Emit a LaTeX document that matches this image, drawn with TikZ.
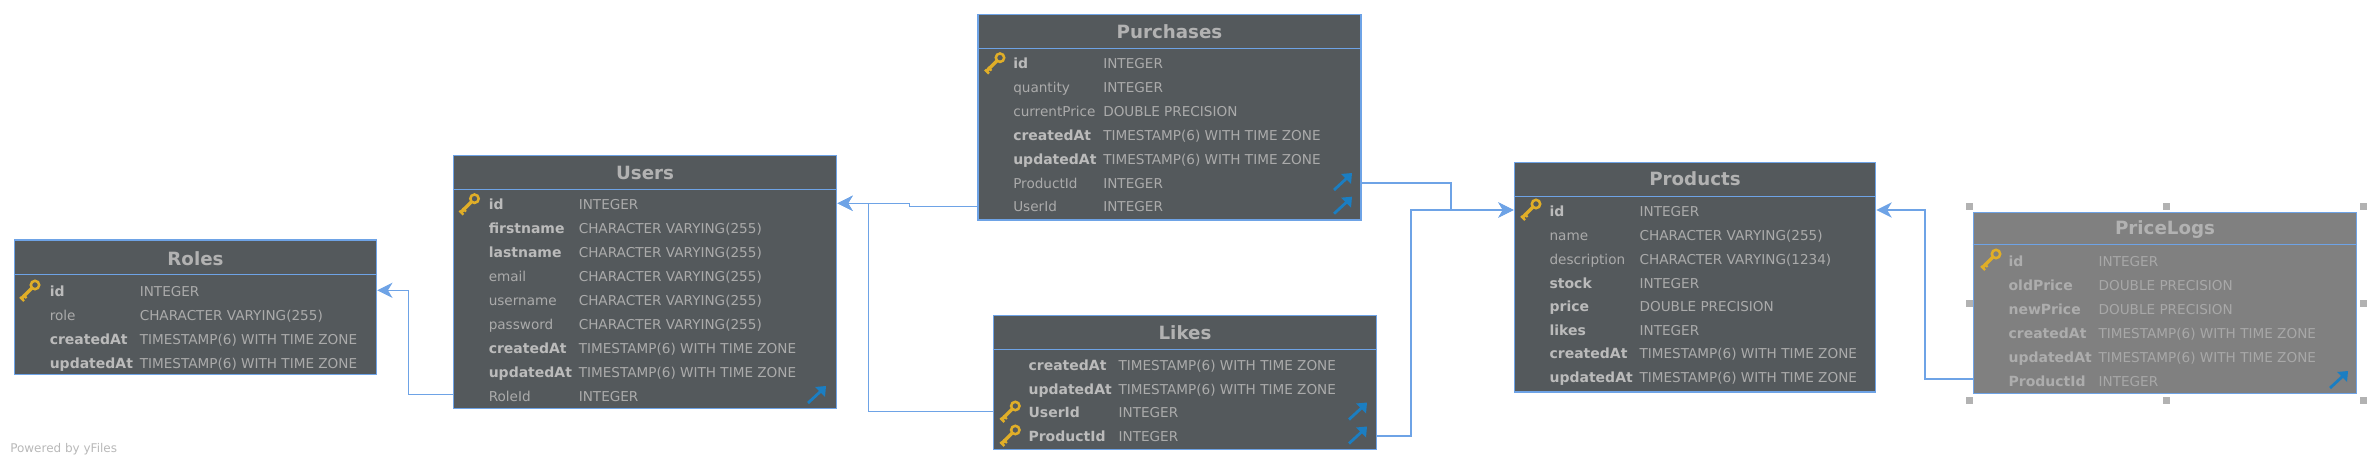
\documentclass[tikz,border=0pt]{standalone}
\usepackage{fontspec}
\setmainfont{DejaVu Sans}
\usetikzlibrary{fit,arrows.meta,calc}
\definecolor{bdr}{HTML}{6EA3E6}
\definecolor{dark}{HTML}{54595C}
\definecolor{mid}{HTML}{808080}
\definecolor{ttl}{HTML}{B2B2B2}
\definecolor{bld}{HTML}{BBBBBB}
\definecolor{reg}{HTML}{ABABAB}
\definecolor{gold}{HTML}{E0AE28}
\definecolor{fkblue}{HTML}{1B7EC2}
\tikzset{
  x=0.75pt,y=-0.75pt,
  tablebox/.style={draw=bdr,line width=1.1pt,inner sep=0pt},
  titletext/.style={font=\bfseries\fontsize{13.7pt}{15pt}\selectfont,text=ttl,inner sep=0pt},
  boldtext/.style={font=\bfseries\fontsize{10.5pt}{12pt}\selectfont,text=bld,inner sep=0pt,anchor=base west},
  regtext/.style={font=\fontsize{10.2pt}{12pt}\selectfont,text=reg,inner sep=0pt,anchor=base west},
  fk/.style={draw=bdr,line width=0.85pt,-{Stealth[length=11.5pt,width=11.5pt,inset=3.5pt]}},
  handlebox/.style={fill=black!30,draw=none,minimum size=5.2pt,inner sep=0pt},
  keyicon/.pic={
    \draw[gold,line width=2.5pt] (-8,8) -- (3,-3);
    \draw[gold,line width=1.9pt] (6,-6) circle[radius=4.2];
    \draw[gold,line width=1.8pt] (-9,6) -- (-5,10);
    \draw[gold,line width=1.6pt] (-6,3.5) -- (-2.5,7);
  },
  fkicon/.pic={
    \draw[fkblue,line width=2.1pt] (-9,8) -- (4,-4);
    \fill[fkblue] (9,-9) -- (8,2) -- (-2,-8) -- cycle;
  }
}
% #1 name, #2 left, #3 top, #4 right, #5 bottom, #6 header rule y, #7 title y, #8 fill, #9 title
\newcommand\erTable[9]{%
  \node[tablebox,fill=#8,fit={(#2,#3)(#4,#5)}] (#1) {};
  \draw[bdr,line width=1pt] (#1.west |- 0,#6) -- (#1.east |- 0,#6);
  \node[titletext] (#1-title) at ($(#2,#7)!0.5!(#4,#7)$) {#9};
}
% #1 table, #2 left, #3 row y, #4 name, #5 type
\newcommand\erB[5]{%
  \node[boldtext] (#1-#4-n) at (#2+35,#3+5) {#4};
  \node[regtext] (#1-#4-t) at (#2+125,#3+5) {#5};
}
\newcommand\erR[5]{%
  \node[regtext] (#1-#4-n) at (#2+35,#3+5) {#4};
  \node[regtext] (#1-#4-t) at (#2+125,#3+5) {#5};
}
\newcommand\tsz{TIMESTAMP(6) WITH TIME ZONE}
\newcommand\cvr{CHARACTER VARYING(255)}
\newcommand\dbl{DOUBLE PRECISION}
\begin{document}
\begin{tikzpicture}
\useasboundingbox (0,0) rectangle (2371,464);
% ---- Roles
\erTable{Roles}{14.5}{240}{376.5}{374.7}{274.7}{259}{dark}{Roles}
\erB{Roles}{14.5}{291}{id}{INTEGER}
\erR{Roles}{14.5}{315}{role}{\cvr}
\erB{Roles}{14.5}{339}{createdAt}{\tsz}
\erB{Roles}{14.5}{363}{updatedAt}{\tsz}
\pic at (29,291) {keyicon};
% ---- Users
\erTable{Users}{453.5}{155.3}{836.7}{408.3}{189.3}{173}{dark}{Users}
\erB{Users}{453.5}{204.7}{id}{INTEGER}
\erB{Users}{453.5}{228.6}{firstname}{\cvr}
\erB{Users}{453.5}{252.5}{lastname}{\cvr}
\erR{Users}{453.5}{276.4}{email}{\cvr}
\erR{Users}{453.5}{300.3}{username}{\cvr}
\erR{Users}{453.5}{324.2}{password}{\cvr}
\erB{Users}{453.5}{348.1}{createdAt}{\tsz}
\erB{Users}{453.5}{372}{updatedAt}{\tsz}
\erR{Users}{453.5}{396}{RoleId}{INTEGER}
\pic at (468.5,204.7) {keyicon};
\pic at (817,395) {fkicon};
% ---- Purchases
\erTable{Purchases}{978}{14.5}{1361}{220}{48.5}{32}{dark}{Purchases}
\erB{Purchases}{978}{63.7}{id}{INTEGER}
\erR{Purchases}{978}{87.5}{quantity}{INTEGER}
\erR{Purchases}{978}{111.4}{currentPrice}{\dbl}
\erB{Purchases}{978}{135.3}{createdAt}{\tsz}
\erB{Purchases}{978}{159.2}{updatedAt}{\tsz}
\erR{Purchases}{978}{183}{ProductId}{INTEGER}
\erR{Purchases}{978}{206.7}{UserId}{INTEGER}
\pic at (994,63.7) {keyicon};
\pic at (1343,182) {fkicon};
\pic at (1343,205.7) {fkicon};
% ---- Likes
\erTable{Likes}{993.3}{315.3}{1376.7}{449.3}{349.7}{333}{dark}{Likes}
\erB{Likes}{993.3}{365}{createdAt}{\tsz}
\erB{Likes}{993.3}{389}{updatedAt}{\tsz}
\erB{Likes}{993.3}{412.5}{UserId}{INTEGER}
\erB{Likes}{993.3}{436.5}{ProductId}{INTEGER}
\pic at (1009.3,412) {keyicon};
\pic at (1009.3,436) {keyicon};
\pic at (1358,411.5) {fkicon};
\pic at (1358,435.5) {fkicon};
% ---- Products
\erTable{Products}{1514.3}{162.7}{1875.7}{392}{196.3}{179}{dark}{Products}
\erB{Products}{1514.3}{211}{id}{INTEGER}
\erR{Products}{1514.3}{235}{name}{\cvr}
\erR{Products}{1514.3}{259}{description}{CHARACTER VARYING(1234)}
\erB{Products}{1514.3}{283}{stock}{INTEGER}
\erB{Products}{1514.3}{306}{price}{\dbl}
\erB{Products}{1514.3}{330}{likes}{INTEGER}
\erB{Products}{1514.3}{353.7}{createdAt}{\tsz}
\erB{Products}{1514.3}{377.7}{updatedAt}{\tsz}
\pic at (1530,210) {keyicon};
% ---- PriceLogs (dimmed)
\begin{scope}
\colorlet{ttl}{black!30}
\colorlet{bld}{black!32}
\colorlet{reg}{black!34}
\erTable{PriceLogs}{1973.3}{212.3}{2356.7}{393.3}{244.3}{229.5}{mid}{PriceLogs}
\erB{PriceLogs}{1973.3}{261}{id}{INTEGER}
\erB{PriceLogs}{1973.3}{285}{oldPrice}{\dbl}
\erB{PriceLogs}{1973.3}{309}{newPrice}{\dbl}
\erB{PriceLogs}{1973.3}{333}{createdAt}{\tsz}
\erB{PriceLogs}{1973.3}{357}{updatedAt}{\tsz}
\erB{PriceLogs}{1973.3}{381}{ProductId}{INTEGER}
\end{scope}
\pic at (1990,260) {keyicon};
\pic at (2339,380) {fkicon};
% ---- selection handles
\node[handlebox] (h1) at (1969.3,206.3) {};
\node[handlebox] (h2) at (2166.3,206.3) {};
\node[handlebox] (h3) at (2363.3,206.3) {};
\node[handlebox] (h4) at (1969.3,303.3) {};
\node[handlebox] (h5) at (2363.3,303.3) {};
\node[handlebox] (h6) at (1969.3,400.3) {};
\node[handlebox] (h7) at (2166.3,400.3) {};
\node[handlebox] (h8) at (2363.3,400.3) {};
% ---- connectors
\draw[fk] (Users.west |- 0,394.3) -| (408.3,290.3) -- (Roles.east |- 0,290.3);
\draw[fk] (Purchases.west |- 0,206.3) -| (909.3,203.3) -- (Users.east |- 0,203.3);
\draw[fk] (Likes.west |- 0,411.3) -| (868.3,203.3) -- (Users.east |- 0,203.3);
\draw[fk] (Purchases.east |- 0,183) -| (1451,210) -- (Products.west |- 0,210);
\draw[fk] (Likes.east |- 0,436) -| (1411,210) -- (Products.west |- 0,210);
\draw[fk] (PriceLogs.west |- 0,379) -| (1925,210) -- (Products.east |- 0,210);
% ---- watermark
\node[font=\fontsize{9pt}{11pt}\selectfont,text=black!28,inner sep=0pt,anchor=base west] (powered) at (10,452) {Powered by yFiles};
\end{tikzpicture}
\end{document}
